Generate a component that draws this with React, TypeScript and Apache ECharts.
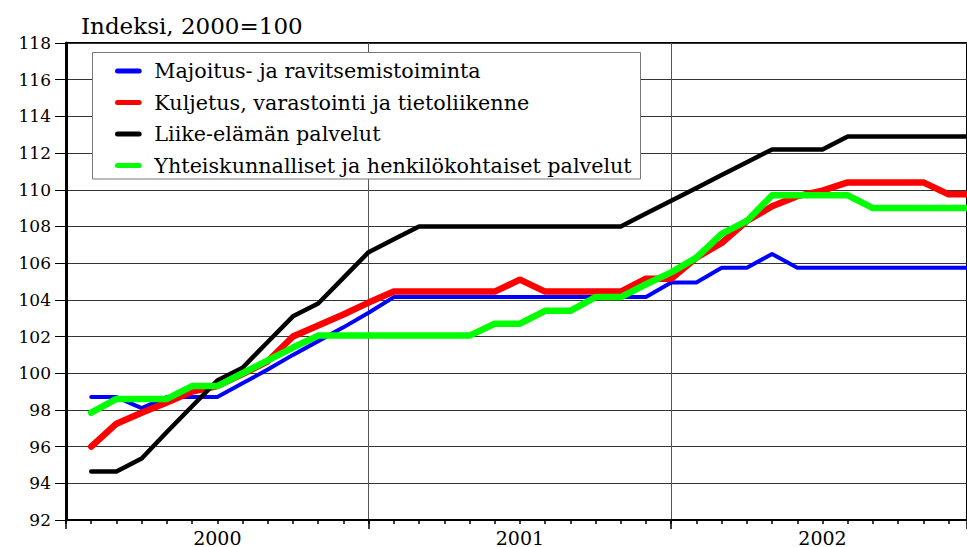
import React, { useEffect, useRef } from 'react';
import * as echarts from 'echarts';

// Month index: 0 = start of 2000 on the axis; data points sit on month ticks 1..36
const monthIndex = [
  1, 2, 3, 4, 5, 6, 7, 8, 9, 10, 11, 12,
  13, 14, 15, 16, 17, 18, 19, 20, 21, 22, 23, 24,
  25, 26, 27, 28, 29, 30, 31, 32, 33, 34, 35, 36,
];

const yearLabels = ['2000', '2001', '2002'];

const seriesNames = [
  'Majoitus- ja ravitsemistoiminta',
  'Kuljetus, varastointi ja tietoliikenne',
  'Liike-elämän palvelut',
  'Yhteiskunnalliset ja henkilökohtaiset palvelut',
];

const majoitus = [
  98.7, 98.7, 98.1, 98.7, 98.7, 98.7, 99.45, 100.2, 101.0, 101.75, 102.5, 103.3,
  104.15, 104.15, 104.15, 104.15, 104.15, 104.15, 104.15, 104.15, 104.15, 104.15, 104.15, 104.95,
  104.95, 105.75, 105.75, 106.5, 105.75, 105.75, 105.75, 105.75, 105.75, 105.75, 105.75, 105.75,
];

const kuljetus = [
  96.0, 97.25, 97.85, 98.4, 99.0, 99.3, 99.95, 100.65, 102.0, 102.6, 103.2, 103.85,
  104.45, 104.45, 104.45, 104.45, 104.45, 105.1, 104.45, 104.45, 104.45, 104.45, 105.15, 105.15,
  106.3, 107.1, 108.3, 109.1, 109.65, 109.95, 110.4, 110.4, 110.4, 110.4, 109.75, 109.75,
];

const liike = [
  94.65, 94.65, 95.35, 96.8, 98.2, 99.6, 100.3, 101.7, 103.1, 103.8, 105.2, 106.6,
  107.3, 108.0, 108.0, 108.0, 108.0, 108.0, 108.0, 108.0, 108.0, 108.0, 108.7, 109.4,
  110.1, 110.8, 111.5, 112.2, 112.2, 112.2, 112.9, 112.9, 112.9, 112.9, 112.9, 112.9,
];

const yhteis = [
  97.85, 98.6, 98.6, 98.6, 99.3, 99.3, 100.0, 100.7, 101.4, 102.05, 102.05, 102.05,
  102.05, 102.05, 102.05, 102.05, 102.7, 102.7, 103.4, 103.4, 104.15, 104.15, 104.85, 105.5,
  106.3, 107.6, 108.3, 109.7, 109.7, 109.7, 109.7, 109.0, 109.0, 109.0, 109.0, 109.0,
];

const seriesValues = [majoitus, kuljetus, liike, yhteis];
const seriesColors = ['#0000ff', '#ff0000', '#000000', '#00ff00'];
const seriesWidths = [4, 6.5, 4.5, 6.5];

const FONT = 'DejaVu Serif';
const X_MAX = 35.73;
const PILL = 'path://M3,0 H29 A3,3 0 0 1 29,6 H3 A3,3 0 0 1 3,0 Z';

export default function App() {
  const ref = useRef<HTMLDivElement>(null);

  useEffect(() => {
    if (!ref.current) return;
    const chart = echarts.init(ref.current, undefined, { renderer: 'svg' });

    const yearAt = (v: number) => {
      if (v % 12 === 6) {
        const k = (v - 6) / 12;
        return yearLabels[k] ?? '';
      }
      return '';
    };

    const option: any = {
      animation: false,
      backgroundColor: '#ffffff',
      color: seriesColors,
      textStyle: { fontFamily: FONT },
      title: {
        text: 'Indeksi, 2000=100',
        left: 81,
        top: 14,
        padding: 0,
        textStyle: { fontFamily: FONT, fontSize: 23, fontWeight: 'normal', color: '#000' },
      },
      grid: {
        left: 66,
        right: -2,
        top: 43,
        bottom: 27,
        show: true,
        borderColor: '#000',
        borderWidth: 2,
        backgroundColor: 'transparent',
      },
      legend: {
        orient: 'vertical',
        left: 115,
        top: 60.5,
        padding: 0,
        itemWidth: 32,
        itemHeight: 5,
        itemGap: 10.5,
        icon: PILL,
        z: 6,
        textStyle: { fontFamily: FONT, fontSize: 20.7, color: '#000', padding: [0, 0, 0, 5] },
        data: seriesNames,
      },
      graphic: [
        {
          type: 'rect',
          z: 4,
          shape: { x: 92.5, y: 52.5, width: 548, height: 126.5 },
          style: { fill: '#ffffff', stroke: '#777777', lineWidth: 1 },
        },
      ],
      xAxis: [
        {
          type: 'value',
          min: 0,
          max: X_MAX,
          interval: 1,
          position: 'bottom',
          axisLine: { show: true, onZero: false, lineStyle: { color: '#000', width: 2 } },
          axisTick: { show: true, length: 4, lineStyle: { color: '#000', width: 1.5 } },
          axisLabel: {
            show: true,
            margin: 8,
            formatter: (v: number) => yearAt(v),
            fontFamily: FONT,
            fontSize: 19,
            color: '#000',
            showMaxLabel: false,
          },
          splitLine: { show: false },
        },
        {
          type: 'value',
          min: 0,
          max: X_MAX,
          interval: 12,
          position: 'bottom',
          axisLine: { show: false, onZero: false },
          axisTick: { show: true, length: 9, lineStyle: { color: '#000', width: 1.5 } },
          axisLabel: { show: false },
          splitLine: { show: true, lineStyle: { color: '#555', width: 1 } },
        },
      ],
      yAxis: {
        type: 'value',
        min: 92,
        max: 118,
        interval: 2,
        axisLine: { show: true, lineStyle: { color: '#000', width: 3 } },
        axisTick: { show: true, length: 11, lineStyle: { color: '#000', width: 1 } },
        axisLabel: { margin: 15, fontFamily: FONT, fontSize: 17, color: '#000' },
        splitLine: { show: true, lineStyle: { color: '#333', width: 1 } },
      },
      series: seriesNames.map((name, s) => ({
        name,
        type: 'line',
        xAxisIndex: 0,
        yAxisIndex: 0,
        symbol: 'none',
        clip: true,
        z: 2 + s,
        lineStyle: {
          color: seriesColors[s],
          width: seriesWidths[s],
          cap: 'round',
          join: 'round',
        },
        itemStyle: { color: seriesColors[s] },
        data: monthIndex.map((m, i) => [m, seriesValues[s][i]]),
      })),
    };

    chart.setOption(option);
    return () => chart.dispose();
  }, []);

  return (
    <div
      style={{ position: 'fixed', left: 0, top: 0, width: 967, height: 547, overflow: 'hidden', background: '#fff' }}
    >
      <div ref={ref} style={{ width: 967, height: 547 }} />
    </div>
  );
}
